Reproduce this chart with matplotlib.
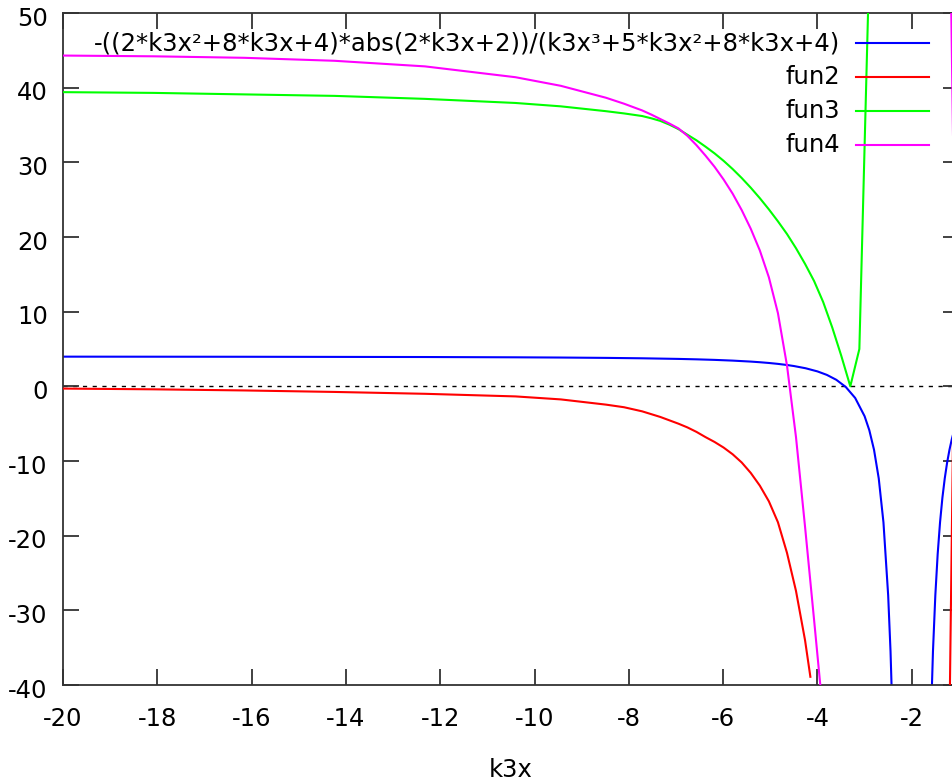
import numpy as np
import matplotlib
matplotlib.use("Agg")
import matplotlib.pyplot as plt
from matplotlib.transforms import ScaledTranslation

plt.rcParams["font.family"] = ["DejaVu Sans"]
plt.rcParams["axes.unicode_minus"] = False

# sampled curves, k3x on the x axis
# fun1: the long expression in the key, two branches around the pole at k3x = -2
fun1_left_x = [-20, -16.162, -12.323, -10.404, -9.444, -8.485, -7.717, -6.949, -6.566,
               -6.182, -5.798, -5.414, -5.222, -5.030, -4.838, -4.646, -4.5, -4.25,
               -4.0, -3.8, -3.6, -3.4, -3.2, -3.0, -2.9, -2.8, -2.7, -2.6, -2.5,
               -2.45, -2.4]
fun1_left_y = [3.975, 3.96, 3.925, 3.887, 3.856, 3.81, 3.755, 3.673, 3.616,
               3.543, 3.445, 3.314, 3.229, 3.129, 3.007, 2.857, 2.72, 2.42,
               2.0, 1.531, 0.875, -0.082, -1.556, -4.0, -5.877, -8.5, -12.33, -18.22, -28.0,
               -35.5, -46.0]
fun1_right_x = [-1.65, -1.6, -1.55, -1.5, -1.45, -1.4, -1.35, -1.3, -1.25, -1.2, -1.15,
                -1.1, -1.0]
fun1_right_y = [-61.3, -46.0, -35.5, -28.0, -22.45, -18.22, -14.93, -12.33, -10.22, -8.5,
                -7.07, -5.877, -4.0]

fun2_left_x = [-20, -18.081, -16.162, -14.242, -12.323, -10.404, -9.444, -8.485, -8.101,
               -7.717, -7.333, -6.949, -6.758, -6.566, -6.374, -6.182, -5.990, -5.798,
               -5.606, -5.414, -5.222, -5.030, -4.838, -4.646, -4.455, -4.263, -4.15]
fun2_left_y = [-0.3, -0.4, -0.55, -0.75, -1.0, -1.35, -1.75, -2.45, -2.8,
               -3.35, -4.1, -5.0, -5.5, -6.1, -6.8, -7.45, -8.2, -9.1,
               -10.2, -11.6, -13.3, -15.4, -18.2, -22.3, -27.4, -34.0, -38.9]
fun2_right_x = [-1.384, -1.192, -1.0]
fun2_right_y = [-300.0, -41.0, 56.0]

fun3_x = [-20, -18.081, -16.162, -14.242, -12.323, -10.404, -9.444, -8.485, -8.101,
          -7.717, -7.525, -7.333, -7.141, -6.949, -6.758, -6.566, -6.374, -6.182,
          -5.990, -5.798, -5.606, -5.414, -5.222, -5.030, -4.838, -4.646, -4.455,
          -4.263, -4.071, -3.879, -3.687, -3.495, -3.303, -3.111, -2.919]
fun3_y = [39.4, 39.3, 39.1, 38.9, 38.5, 37.95, 37.5, 36.85, 36.55,
          36.2, 35.9, 35.55, 35.05, 34.45, 33.7, 32.95, 32.1, 31.2,
          30.2, 29.1, 27.9, 26.6, 25.2, 23.7, 22.1, 20.4, 18.5,
          16.4, 14.1, 11.3, 7.9, 4.1, 0.0, 5.0, 52.0]

fun4_left_x = [-20, -18.081, -16.162, -14.242, -12.323, -10.404, -9.444, -8.485, -8.101,
               -7.717, -7.525, -7.333, -7.141, -6.949, -6.758, -6.566, -6.374, -6.182,
               -5.990, -5.798, -5.606, -5.414, -5.222, -5.030, -4.838, -4.646, -4.455,
               -4.263, -4.071, -3.879]
fun4_left_y = [44.3, 44.2, 44.0, 43.6, 42.85, 41.4, 40.25, 38.65, 37.85,
               36.95, 36.4, 35.8, 35.2, 34.55, 33.55, 32.3, 30.9, 29.4,
               27.7, 25.8, 23.6, 21.1, 18.2, 14.6, 9.8, 2.8, -6.8,
               -18.8, -31.3, -44.0]
fun4_right_x = [-1.192, -1.0]
fun4_right_y = [64.0, -23.0]

labels = ["-((2*k3x²+8*k3x+4)*abs(2*k3x+2))/(k3x³+5*k3x²+8*k3x+4)",
          "fun2", "fun3", "fun4"]
colors = ["#0000ff", "#ff0000", "#00ff00", "#ff00ff"]

W, H = 953, 784
fs = 17.5
fig = plt.figure(figsize=(W / 100, H / 100), dpi=100)
# plot box: left edge at 63 px, right border sits just past the image edge
ax = fig.add_axes([63 / W, 99 / H, 895.9 / W, 672 / H])
ax.set_xlim(-20, -1)
ax.set_ylim(-40, 50)
ax.set_xticks(np.arange(-20, -1, 2))
ax.set_yticks(np.arange(-40, 51, 10))

edge = "#333333"
for s in ax.spines.values():
    s.set_color(edge)
    s.set_linewidth(1.3)
ax.tick_params(direction="in", top=True, right=True, length=11.5, width=1.3,
               color=edge, labelsize=fs, labelcolor="black")
ax.tick_params(axis="y", pad=11)
ax.tick_params(axis="x", pad=16)
# y numbers sit a little below their ticks
shift = ScaledTranslation(0, -3 / 100, fig.dpi_scale_trans)
for lab in ax.get_yticklabels():
    lab.set_transform(lab.get_transform() + shift)

ax.axhline(0, color="black", lw=1.0, ls=(0, (3, 4)), zorder=1)

lw = 1.5
ax.plot(fun1_left_x, fun1_left_y, color=colors[0], lw=lw, zorder=2)
ax.plot(fun1_right_x, fun1_right_y, color=colors[0], lw=lw, zorder=2)
ax.plot(fun2_left_x, fun2_left_y, color=colors[1], lw=lw, zorder=3)
ax.plot(fun2_right_x, fun2_right_y, color=colors[1], lw=lw, zorder=3)
ax.plot(fun3_x, fun3_y, color=colors[2], lw=lw, zorder=4)
ax.plot(fun4_left_x, fun4_left_y, color=colors[3], lw=lw, zorder=5)
ax.plot(fun4_right_x, fun4_right_y, color=colors[3], lw=lw, zorder=5)

ax.set_xlabel("k3x", fontsize=fs, labelpad=19)


# key in the top right corner, text right aligned before the line sample
def to_ax(px, py):
    return (px - 63) / 895.9, (685 - py) / 672


for i, (lab, c) in enumerate(zip(labels, colors)):
    row_y = 43 + 34 * i
    tx, ty = to_ax(840, row_y)
    ax.text(tx, ty, lab, transform=ax.transAxes, ha="right", va="center",
            fontsize=fs, zorder=6)
    x0, yy = to_ax(856, row_y)
    x1, _ = to_ax(929, row_y)
    ax.plot([x0, x1], [yy, yy], transform=ax.transAxes, color=c, lw=lw, zorder=6)

fig.savefig("out.png", dpi=100)
